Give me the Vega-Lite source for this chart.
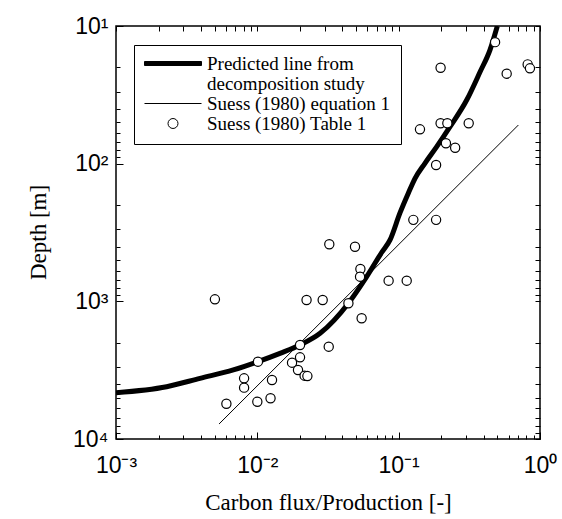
{
  "$schema": "https://vega.github.io/schema/vega-lite/v6.json",
  "width": 424,
  "height": 413,
  "autosize": "none",
  "padding": {"left": 116, "top": 26, "right": 22, "bottom": 80},
  "background": "white",
  "config": {
    "view": {"stroke": "black", "strokeWidth": 1.5},
    "font": "Liberation Serif",
    "axis": {"zindex": 1, "tickOpacity": 1}
  },
  "resolve": {"axis": {"x": "independent", "y": "independent"}},
  "layer": [
    {
      "data": {"values": [
        {"x": 0.00536, "y": 7780, "series": "Suess (1980) equation 1"},
        {"x": 0.703, "y": 52.4, "series": "Suess (1980) equation 1"}
      ]},
      "mark": {"type": "line", "strokeWidth": 1, "clip": true},
      "encoding": {
        "x": {"field": "x", "type": "quantitative", "scale": {"type": "log", "domain": [0.001, 1], "nice": false},
          "axis": {"orient": "bottom", "offset": -4, "zindex": 1, "title": null, "labels": false, "domain": false, "grid": false, "ticks": true, "tickSize": 4, "tickColor": "black", "tickWidth": 1,
            "values": [0.002, 0.003, 0.004, 0.005, 0.006, 0.007, 0.008, 0.009, 0.02, 0.03, 0.04, 0.05, 0.06, 0.07, 0.08, 0.09, 0.2, 0.3, 0.4, 0.5, 0.6, 0.7, 0.8, 0.9]}},
        "y": {"field": "y", "type": "quantitative", "scale": {"type": "log", "domain": [10, 10000], "nice": false, "reverse": true},
          "axis": {"orient": "left", "offset": -4, "zindex": 1, "title": null, "labels": false, "domain": false, "grid": false, "ticks": true, "tickSize": 4, "tickColor": "black", "tickWidth": 1,
            "values": [20, 30, 40, 50, 60, 70, 80, 90, 200, 300, 400, 500, 600, 700, 800, 900, 2000, 3000, 4000, 5000, 6000, 7000, 8000, 9000]}},
        "color": {"field": "series", "type": "nominal",
          "scale": {"domain": ["Predicted line from", "decomposition study", "Suess (1980) equation 1", "Suess (1980) Table 1"], "range": ["black", "black", "black", "black"]},
          "legend": {"title": null,
            "orient": "none",
            "legendX": 18,
            "legendY": 19,
            "zindex": 2,
            "padding": 10,
            "strokeColor": "black",
            "fillColor": "white",
            "labelFont": "Liberation Serif",
            "labelFontSize": 19,
            "labelColor": "black",
            "labelLimit": 0,
            "labelOffset": 5,
            "clipHeight": 17,
            "rowPadding": 0,
            "symbolSize": 3249,
            "symbolType": "stroke",
            "symbolStrokeWidth": 1,
            "symbolStrokeColor": "black",
            "symbolFillColor": "white",
            "encode": {"symbols": {"update": {
              "shape": {"signal": "datum.value == 'Suess (1980) Table 1' ? 'M-0.175,0A0.175,0.175,0,1,0,0.175,0A0.175,0.175,0,1,0,-0.175,0Z' : datum.value == 'Predicted line from' ? 'M-1,-0.07H1V0.07H-1Z' : 'stroke'"},
              "stroke": {"value": "black"},
              "fill": {"signal": "datum.value == 'Predicted line from' ? 'black' : 'white'"},
              "opacity": {"signal": "datum.value == 'decomposition study' ? 0 : 1"}
            }}}}}
      }
    },
    {
      "data": {"values": [
        {"x": 0.001, "y": 4610, "series": "Predicted line from"},
        {"x": 0.00228, "y": 4170, "series": "Predicted line from"},
        {"x": 0.00393, "y": 3624, "series": "Predicted line from"},
        {"x": 0.00676, "y": 3152, "series": "Predicted line from"},
        {"x": 0.0101, "y": 2744, "series": "Predicted line from"},
        {"x": 0.01446, "y": 2386, "series": "Predicted line from"},
        {"x": 0.02005, "y": 2076, "series": "Predicted line from"},
        {"x": 0.0278, "y": 1708, "series": "Predicted line from"},
        {"x": 0.0441, "y": 1033, "series": "Predicted line from"},
        {"x": 0.0594, "y": 662, "series": "Predicted line from"},
        {"x": 0.076, "y": 440, "series": "Predicted line from"},
        {"x": 0.0869, "y": 358, "series": "Predicted line from"},
        {"x": 0.102, "y": 229, "series": "Predicted line from"},
        {"x": 0.117, "y": 164, "series": "Predicted line from"},
        {"x": 0.1306, "y": 127.8, "series": "Predicted line from"},
        {"x": 0.1534, "y": 99.4, "series": "Predicted line from"},
        {"x": 0.186, "y": 75.3, "series": "Predicted line from"},
        {"x": 0.231, "y": 53.9, "series": "Predicted line from"},
        {"x": 0.303, "y": 34.5, "series": "Predicted line from"},
        {"x": 0.377, "y": 21.5, "series": "Predicted line from"},
        {"x": 0.443, "y": 14.9, "series": "Predicted line from"},
        {"x": 0.499, "y": 10, "series": "Predicted line from"}
      ]},
      "mark": {"type": "line", "strokeWidth": 5, "clip": true, "interpolate": "monotone"},
      "encoding": {
        "x": {"field": "x", "type": "quantitative",
          "axis": {"orient": "top", "offset": -5, "zindex": 1, "title": null, "labels": false, "domain": false, "grid": false, "ticks": true, "tickSize": 5, "tickColor": "black", "tickWidth": 1,
            "values": [0.001, 0.002, 0.003, 0.004, 0.005, 0.006, 0.007, 0.008, 0.009, 0.01, 0.02, 0.03, 0.04, 0.05, 0.06, 0.07, 0.08, 0.09, 0.1, 0.2, 0.3, 0.4, 0.5, 0.6, 0.7, 0.8, 0.9, 1]}},
        "y": {"field": "y", "type": "quantitative",
          "axis": {"orient": "right", "offset": -5, "zindex": 1, "title": null, "labels": false, "domain": false, "grid": false, "ticks": true, "tickSize": 5, "tickColor": "black", "tickWidth": 1,
            "values": [10, 20, 30, 40, 50, 60, 70, 80, 90, 100, 200, 300, 400, 500, 600, 700, 800, 900, 1000, 2000, 3000, 4000, 5000, 6000, 7000, 8000, 9000, 10000]}},
        "color": {"field": "series", "type": "nominal"}
      }
    },
    {
      "data": {"values": [
        {"x": 0.00501, "y": 967},
        {"x": 0.00604, "y": 5543},
        {"x": 0.00806, "y": 3624},
        {"x": 0.00806, "y": 4237},
        {"x": 0.0100, "y": 5358},
        {"x": 0.0101, "y": 2744},
        {"x": 0.0124, "y": 5060},
        {"x": 0.0127, "y": 3727},
        {"x": 0.0176, "y": 2790},
        {"x": 0.0194, "y": 3152},
        {"x": 0.02005, "y": 2076},
        {"x": 0.02005, "y": 2551},
        {"x": 0.0216, "y": 3467},
        {"x": 0.0226, "y": 3490},
        {"x": 0.0223, "y": 978},
        {"x": 0.029, "y": 978},
        {"x": 0.032, "y": 2135},
        {"x": 0.0323, "y": 385},
        {"x": 0.0441, "y": 1033},
        {"x": 0.0491, "y": 401},
        {"x": 0.0536, "y": 582},
        {"x": 0.0533, "y": 662},
        {"x": 0.0547, "y": 1328},
        {"x": 0.0849, "y": 708},
        {"x": 0.114, "y": 708},
        {"x": 0.127, "y": 256},
        {"x": 0.184, "y": 256},
        {"x": 0.184, "y": 102.3},
        {"x": 0.1415, "y": 56.3},
        {"x": 0.198, "y": 50.9},
        {"x": 0.221, "y": 50.9},
        {"x": 0.313, "y": 50.9},
        {"x": 0.216, "y": 71.1},
        {"x": 0.251, "y": 76.6},
        {"x": 0.198, "y": 20.1},
        {"x": 0.481, "y": 13.1},
        {"x": 0.581, "y": 22.2},
        {"x": 0.818, "y": 19.0},
        {"x": 0.849, "y": 20.3}
      ]},
      "mark": {"type": "point", "shape": "circle", "size": 85, "filled": true, "fill": "white", "stroke": "black", "strokeWidth": 1.2, "opacity": 1, "clip": true},
      "encoding": {
        "x": {"field": "x", "type": "quantitative",
          "axis": {"orient": "bottom", "offset": -7, "zindex": 1, "title": "Carbon flux/Production [-]", "domain": false, "grid": false, "ticks": true, "tickSize": 7, "tickColor": "black", "tickWidth": 1,
            "values": [0.001, 0.01, 0.1, 1],
            "labelExpr": "datum.value == 0.001 ? '10⁻³' : datum.value == 0.01 ? '10⁻²' : datum.value == 0.1 ? '10⁻¹' : datum.value == 1 ? '10⁰' : ''",
            "labelFont": "Liberation Sans", "labelFontSize": 23, "labelColor": "black", "labelOverlap": false, "labelFlush": false,
            "labelBaseline": "middle", "labelPadding": 26,
            "titleFont": "Liberation Serif", "titleFontSize": 23, "titleFontWeight": "normal", "titleColor": "black",
            "titleBaseline": "middle", "titleY": 70}},
        "y": {"field": "y", "type": "quantitative",
          "axis": {"orient": "left", "offset": -7, "zindex": 1, "title": "Depth [m]", "domain": false, "grid": false, "ticks": true, "tickSize": 7, "tickColor": "black", "tickWidth": 1,
            "values": [10, 100, 1000, 10000],
            "labelExpr": "datum.value == 10 ? '10¹' : datum.value == 100 ? '10²' : datum.value == 1000 ? '10³' : datum.value == 10000 ? '10⁴' : ''",
            "labelFont": "Liberation Sans", "labelFontSize": 23, "labelColor": "black", "labelOverlap": false, "labelFlush": false,
            "labelPadding": 8,
            "titleFont": "Liberation Serif", "titleFontSize": 23, "titleFontWeight": "normal", "titleColor": "black",
            "titleAngle": -90, "titleAlign": "center", "titleBaseline": "middle", "titleX": -85, "titleY": 206}}
      }
    }
  ]
}
